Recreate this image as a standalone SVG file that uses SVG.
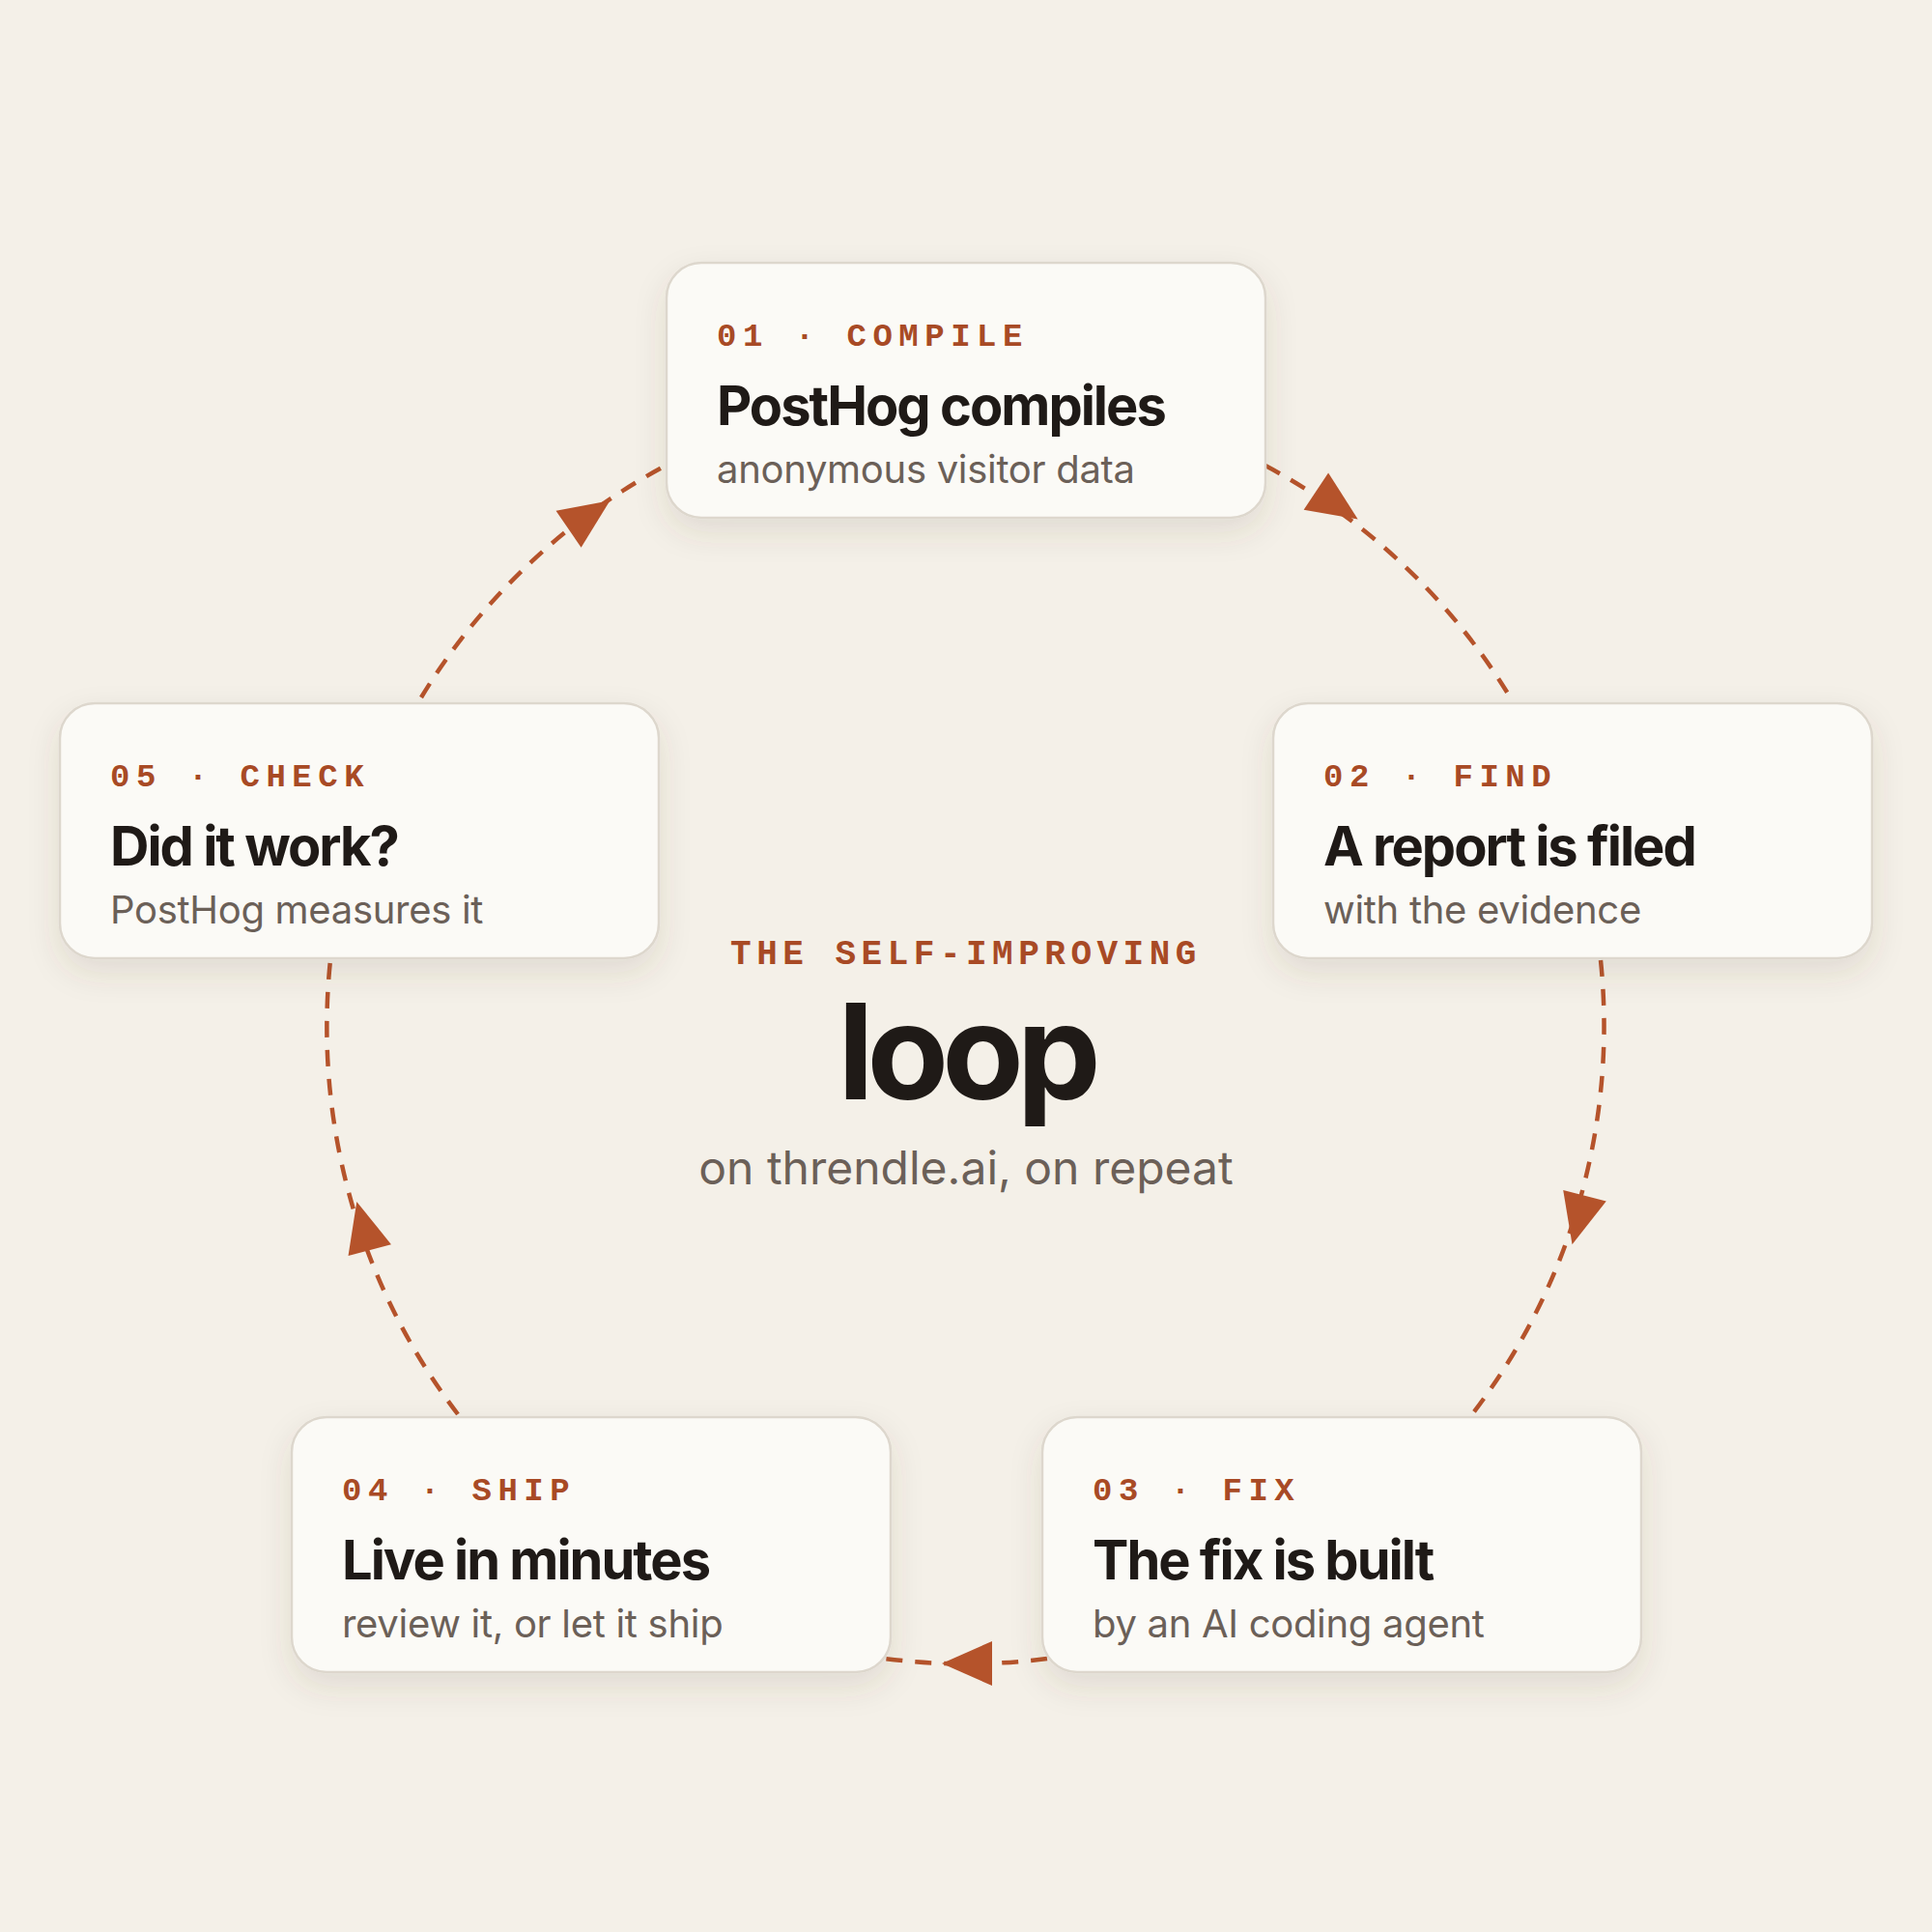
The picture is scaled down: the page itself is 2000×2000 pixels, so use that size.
<svg xmlns="http://www.w3.org/2000/svg" width="2000" height="2000" viewBox="0 0 2000 2000">
<defs>
<filter id="sh" x="-20%" y="-20%" width="140%" height="160%"><feDropShadow dx="0" dy="14" stdDeviation="16" flood-color="#5a4530" flood-opacity="0.12"/></filter>
<polygon id="ah" points="26,0 -26,-23 -26,23"/>
</defs>
<style>
.card{fill:#fbfaf6;stroke:#ddd7cd;stroke-width:2.5;filter:url(#sh)}
.lab{font-family:"Liberation Mono",monospace;font-weight:bold;font-size:34px;letter-spacing:6.5px;fill:#a84a25}
.tit{font-family:Inter,"Liberation Sans",sans-serif;font-weight:700;font-size:56px;letter-spacing:-2px;fill:#1f1a17}
.sub{font-family:Inter,"Liberation Sans",sans-serif;font-size:40px;letter-spacing:-0.3px;fill:#6b6058}
.arc{fill:none;stroke:#b5532b;stroke-width:4.5;stroke-dasharray:17 13}
.ah{fill:#b5532b}
</style>
<rect width="2000" height="2000" fill="#f4f0e8"/>
<g id="connectors">
<path class="arc" d="M1310,482 A660,660 0 0 1 1561,718"/>
<path class="arc" d="M1657,994 A660,660 0 0 1 1524,1464"/>
<path class="arc" d="M1084,1717 A660,660 0 0 1 916,1717"/>
<path class="arc" d="M474,1464 A660,660 0 0 1 342,994"/>
<path class="arc" d="M436,722 A660,660 0 0 1 689,482"/>
<use href="#ah" class="ah" transform="translate(1384,523) rotate(33.6)"/>
<use href="#ah" class="ah" transform="translate(1634,1263) rotate(104.4)"/>
<use href="#ah" class="ah" transform="translate(1001,1722) rotate(180)"/>
<use href="#ah" class="ah" transform="translate(376,1269) rotate(-105)"/>
<use href="#ah" class="ah" transform="translate(610,533) rotate(-34.5)"/>
</g>
<g id="center" text-anchor="middle">
<text x="1000" y="998" font-family="Liberation Mono,monospace" font-weight="bold" font-size="36" letter-spacing="5.5" fill="#a84a25">THE SELF-IMPROVING</text>
<text x="1000" y="1138" font-family="Inter,Liberation Sans,sans-serif" font-weight="700" font-size="138" letter-spacing="-7" fill="#1f1a17">loop</text>
<text x="1000" y="1226" font-family="Inter,Liberation Sans,sans-serif" font-size="48" letter-spacing="0" fill="#6b6058">on threndle.ai, on repeat</text>
</g>
<g id="n01"><rect class="card" x="690" y="272" width="620" height="264" rx="36"/>
<text class="lab" x="742" y="358">01 · COMPILE</text><text class="tit" x="742" y="440">PostHog compiles</text><text class="sub" x="742" y="500">anonymous visitor data</text></g>
<g id="n02"><rect class="card" x="1318" y="728" width="620" height="264" rx="36"/>
<text class="lab" x="1370" y="814">02 · FIND</text><text class="tit" x="1370" y="896">A report is filed</text><text class="sub" x="1370" y="956">with the evidence</text></g>
<g id="n03"><rect class="card" x="1079" y="1467" width="620" height="264" rx="36"/>
<text class="lab" x="1131" y="1553">03 · FIX</text><text class="tit" x="1131" y="1635">The fix is built</text><text class="sub" x="1131" y="1695">by an AI coding agent</text></g>
<g id="n04"><rect class="card" x="302" y="1467" width="620" height="264" rx="36"/>
<text class="lab" x="354" y="1553">04 · SHIP</text><text class="tit" x="354" y="1635">Live in minutes</text><text class="sub" x="354" y="1695">review it, or let it ship</text></g>
<g id="n05"><rect class="card" x="62" y="728" width="620" height="264" rx="36"/>
<text class="lab" x="114" y="814">05 · CHECK</text><text class="tit" x="114" y="896">Did it work?</text><text class="sub" x="114" y="956">PostHog measures it</text></g>
</svg>
